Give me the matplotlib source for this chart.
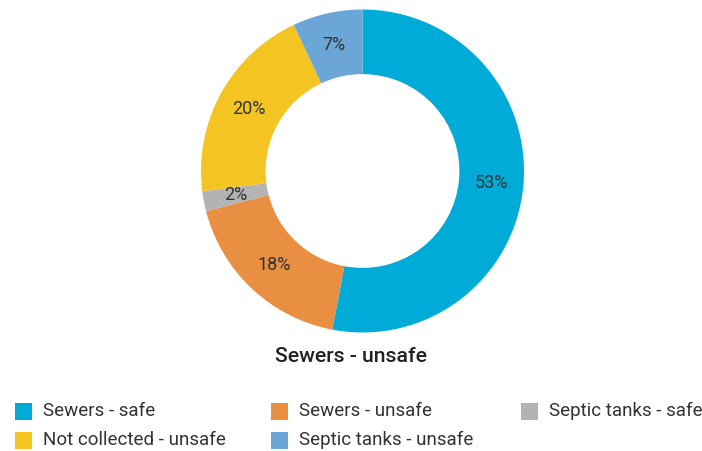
import matplotlib.pyplot as plt
from matplotlib.patches import Rectangle

plt.rcParams['font.family'] = ['Roboto', 'DejaVu Sans']

labels = ['Sewers - safe', 'Sewers - unsafe', 'Septic tanks - safe',
          'Not collected - unsafe', 'Septic tanks - unsafe']
shares = [53, 18, 2, 20, 7]
colors = ['#00acd7', '#e88f42', '#b3b3b3', '#f4c522', '#6ba6d6']
title = 'Sewers - unsafe'

W, H = 702, 451
fig = plt.figure(figsize=(W / 100, H / 100), dpi=100)

# donut centre and outer radius in pixels
cx, cy, R = 362.5, 171, 161.5
ax = fig.add_axes([(cx - R) / W, (H - cy - R) / H, 2 * R / W, 2 * R / H])
ax.pie(shares, colors=colors, startangle=90, counterclock=False,
       radius=1, autopct=lambda p: f'{p:.0f}%', pctdistance=0.8,
       wedgeprops=dict(width=0.4, linewidth=0),
       textprops=dict(fontsize=13, color='#333333'))
ax.set_xlim(-1, 1)
ax.set_ylim(-1, 1)
ax.set_aspect('equal')
ax.axis('off')

fig.text(351 / W, 1 - 357 / H, title, ha='center', va='center',
         fontsize=15.3, fontweight='medium', color='#222222')

# legend laid out row by row, three per row
col_x = [15, 271, 521]
row_y = [411, 440]
box = 17
for i, (lab, col) in enumerate(zip(labels, colors)):
    x = col_x[i % 3]
    y = row_y[i // 3]
    fig.patches.append(Rectangle((x / W, 1 - (y + box / 2) / H), box / W, box / H,
                                 transform=fig.transFigure, facecolor=col,
                                 edgecolor='none'))
    fig.text((x + 28) / W, 1 - y / H, lab, ha='left', va='center',
             fontsize=13.5, color='#333333')

fig.savefig('out.png', dpi=100)
